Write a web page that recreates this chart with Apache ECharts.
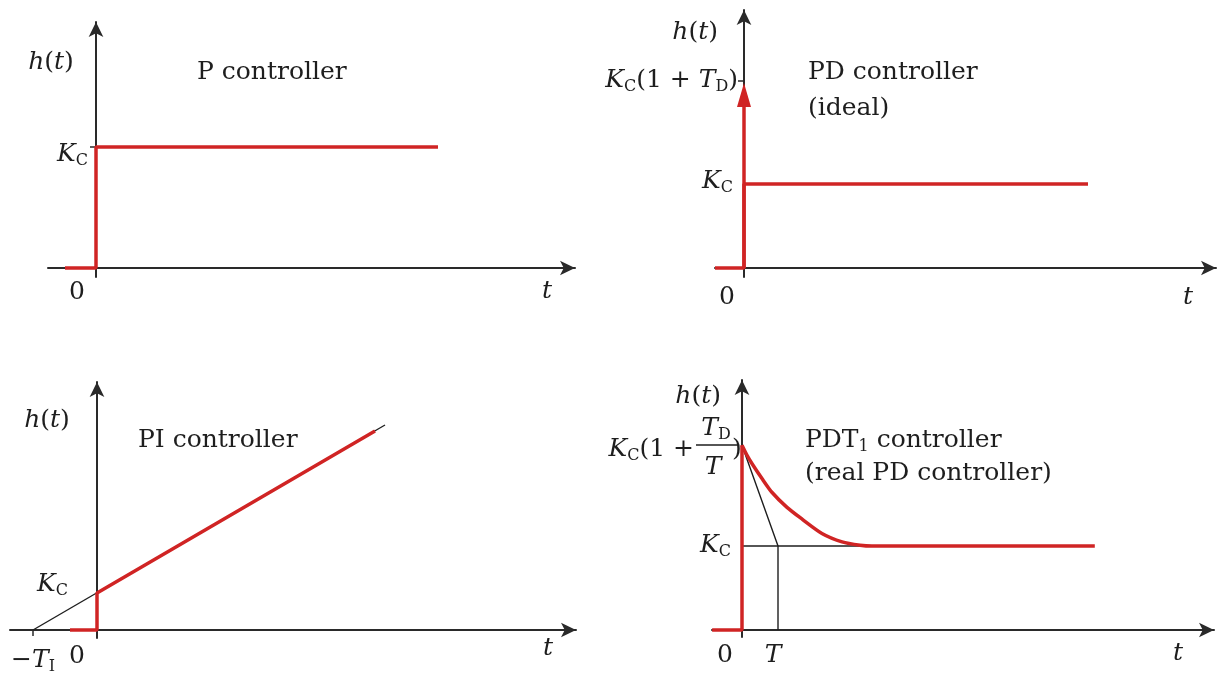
<!DOCTYPE html>
<html>
<head>
<meta charset="utf-8">
<title>Controller step responses</title>
<script src="https://cdn.jsdelivr.net/npm/echarts@6/dist/echarts.min.js"></script>
<style>
  html, body { margin: 0; padding: 0; background: #fff; }
  #chart { width: 1222px; height: 678px; }
</style>
</head>
<body>
<div id="chart"></div>
<script>
// P controller: x in 50px steps, y in K_C
const pX = [-0.62, 0, 0, 6.84];
const pY = [0, 0, 1, 1];
// PD controller (ideal)
const pdX = [-0.58, 0, 0, 6.88];
const pdY = [0, 0, 1, 1];
const pdImpulseTop = 2.06;
const pdPeakTick = 2.23;
// PI controller
const piRedX = [-0.54, 0, 0, 5.56];
const piRedY = [0, 0, 1, 5.38];
const piGuideX = [-1.28, 5.76];
const piGuideY = [0, 5.54];
const piTiTick = -1.28;
// PDT1 controller: x in T, y in K_C
const pdtStepX = [-0.83, 0, 0];
const pdtStepY = [0, 0, 2.2];
const pdtCurveX = [0, 0.14, 0.28, 0.56, 0.83, 1.25, 1.67, 2.22, 2.78, 3.28, 3.61, 9.8];
const pdtCurveY = [2.2, 2.08, 1.98, 1.80, 1.64, 1.46, 1.32, 1.15, 1.05, 1.01, 1.0, 1.0];
const tangentX = [0, 1, 1];
const tangentY = [2.2, 1, 0];
const kcGuideX = [0, 3.4];
const kcGuideY = [1, 1];

const RED = '#d02424';
const INK = '#1e1e1e';
const F = 'DejaVu Serif';

function zip(xs, ys) {
  return xs.map(function (x, i) { return [x, ys[i]]; });
}

// pixel layout of each panel: origin, unit size, axis extents
const panels = [
  { ox: 96,  oy: 268, ux: 50, uy: 121, left: 48,  right: 575,  top: 22,  bottom: 277, xt: [], yt: [1] },
  { ox: 744, oy: 268, ux: 50, uy: 84,  left: 715, right: 1216, top: 10,  bottom: 277, xt: [], yt: [pdPeakTick] },
  { ox: 97,  oy: 630, ux: 50, uy: 37,  left: 10,  right: 576,  top: 382, bottom: 638, xt: [piTiTick], yt: [] },
  { ox: 742, oy: 630, ux: 36, uy: 84,  left: 712, right: 1214, top: 380, bottom: 637, xt: [], yt: [] }
];

function axisLine() {
  return { onZero: true, symbol: ['none', 'arrow'], symbolSize: [11, 15],
    lineStyle: { color: '#2a2a2a', width: 2 } };
}

const grids = [], xAxes = [], yAxes = [];
panels.forEach(function (p, i) {
  grids.push({ left: p.left, top: p.top, width: p.right - p.left, height: p.bottom - p.top });
  xAxes.push({
    type: 'value', gridIndex: i,
    min: (p.left - p.ox) / p.ux, max: (p.right - p.ox) / p.ux,
    axisLine: axisLine(),
    axisTick: { show: p.xt.length > 0, customValues: p.xt, length: 6, lineStyle: { color: '#2a2a2a', width: 1.5 } },
    axisLabel: { show: false }, splitLine: { show: false }
  });
  yAxes.push({
    type: 'value', gridIndex: i,
    min: (p.oy - p.bottom) / p.uy, max: (p.oy - p.top) / p.uy,
    axisLine: axisLine(),
    axisTick: { show: p.yt.length > 0, customValues: p.yt, length: 6, lineStyle: { color: '#2a2a2a', width: 1.5 } },
    axisLabel: { show: false }, splitLine: { show: false }
  });
});

function line(i, data, color, width, extra) {
  return Object.assign({
    type: 'line', xAxisIndex: i, yAxisIndex: i, data: data,
    symbol: 'none', silent: true,
    lineStyle: { color: color, width: width }
  }, extra || {});
}

const series = [
  line(0, zip(pX, pY), RED, 3.5),
  line(1, zip(pdX, pdY), RED, 3.5, {
    markLine: {
      silent: true, animation: false,
      symbol: ['none', 'triangle'], symbolSize: [14, 24],
      label: { show: false },
      lineStyle: { color: RED, width: 3.5, type: 'solid' },
      data: [[{ coord: [0, 0] }, { coord: [0, pdImpulseTop] }]]
    }
  }),
  line(2, zip(piGuideX, piGuideY), INK, 1.4),
  line(2, zip(piRedX, piRedY), RED, 3.5),
  line(3, zip(tangentX, tangentY), INK, 1.4),
  line(3, zip(kcGuideX, kcGuideY), INK, 1.4),
  line(3, zip(pdtStepX, pdtStepY), RED, 3.5),
  line(3, zip(pdtCurveX, pdtCurveY), RED, 3.5, { smooth: 0.25 })
];

function rich(size) {
  return {
    i: { fontFamily: F, fontStyle: 'italic', fontSize: size, lineHeight: 30, fill: INK },
    s: { fontFamily: F, fontSize: Math.round(size * 0.62), lineHeight: 13, verticalAlign: 'bottom', fill: INK }
  };
}

function txt(x, y, text, align, size) {
  size = size || 25;
  return {
    type: 'text', x: x, y: y, silent: true,
    style: {
      text: text, align: align || 'center', verticalAlign: 'middle',
      fontFamily: F, fontSize: size, lineHeight: 30, fill: INK, rich: rich(size)
    }
  };
}

const labels = [
  // P
  txt(51, 62, '{i|h}({i|t})'),
  txt(197, 72, 'P controller', 'left'),
  txt(88, 154, '{i|K}{s|C}', 'right'),
  txt(77, 292, '0'),
  txt(547, 291, '{i|t}'),
  // PD ideal
  txt(718, 32, '{i|h}({i|t})', 'right'),
  txt(738, 80, '{i|K}{s|C}(1 + {i|T}{s|D})', 'right'),
  txt(808, 72, 'PD controller', 'left'),
  txt(808, 108, '(ideal)', 'left'),
  txt(733, 181, '{i|K}{s|C}', 'right'),
  txt(727, 297, '0'),
  txt(1188, 297, '{i|t}'),
  // PI
  txt(47, 420, '{i|h}({i|t})'),
  txt(138, 440, 'PI controller', 'left'),
  txt(68, 584, '{i|K}{s|C}', 'right'),
  txt(33, 660, '\u2212{i|T}{s|I}'),
  txt(77, 656, '0'),
  txt(548, 648, '{i|t}'),
  // PDT1
  txt(721, 396, '{i|h}({i|t})', 'right'),
  txt(805, 440, 'PDT{s|1} controller', 'left'),
  txt(805, 473, '(real PD controller)', 'left'),
  txt(694, 449, '{i|K}{s|C}(1 +', 'right'),
  txt(716, 428, '{i|T}{s|D}'),
  txt(713, 467, '{i|T}'),
  txt(737, 449, ')'),
  {
    type: 'line', silent: true,
    shape: { x1: 696, y1: 445, x2: 738, y2: 445 },
    style: { stroke: INK, lineWidth: 1.4 }
  },
  txt(731, 545, '{i|K}{s|C}', 'right'),
  txt(725, 655, '0'),
  txt(773, 655, '{i|T}'),
  txt(1178, 653, '{i|t}')
];

const chart = echarts.init(document.getElementById('chart'));
chart.setOption({
  animation: false,
  backgroundColor: '#fff',
  grid: grids,
  xAxis: xAxes,
  yAxis: yAxes,
  series: series,
  graphic: labels
});
window.addEventListener('resize', function () { chart.resize(); });
</script>
</body>
</html>
